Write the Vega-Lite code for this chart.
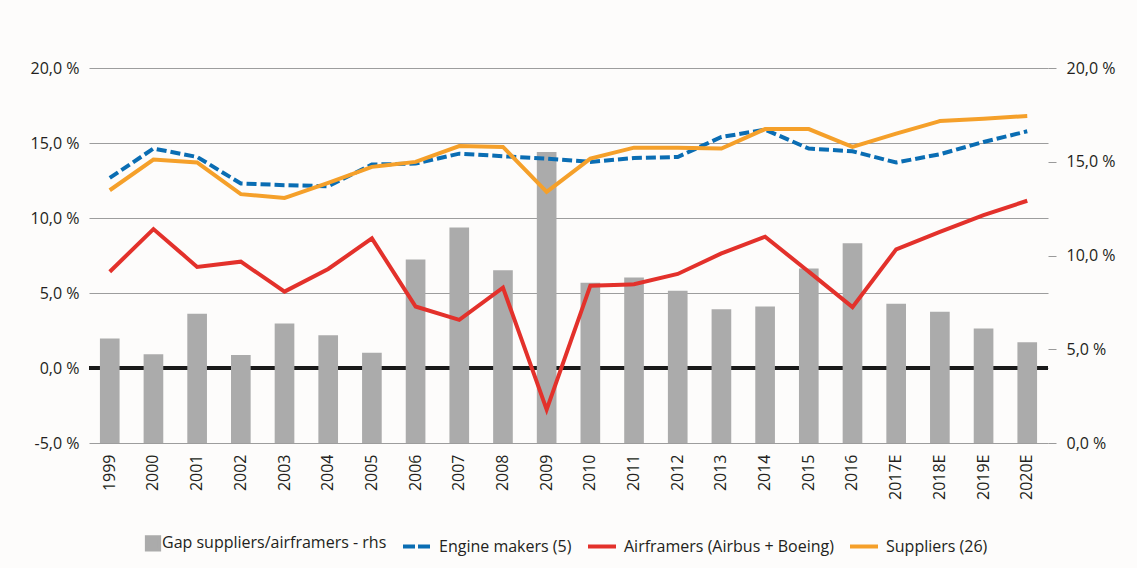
{
  "$schema": "https://vega.github.io/schema/vega-lite/v6.json",
  "autosize": "none",
  "width": 959,
  "height": 375,
  "padding": {"left": 89, "top": 68, "right": 89, "bottom": 125},
  "background": "#fdfcfb",
  "config": {
    "view": {"stroke": null},
    "font": "Open Sans",
    "axis": {"labelFont": "Open Sans", "labelColor": "#231f20", "title": null}
  },
  "datasets": {
    "gap": [
      {"year": "1999", "gap": 5.58}, {"year": "2000", "gap": 4.73}, {"year": "2001", "gap": 6.89},
      {"year": "2002", "gap": 4.69}, {"year": "2003", "gap": 6.38}, {"year": "2004", "gap": 5.75},
      {"year": "2005", "gap": 4.82}, {"year": "2006", "gap": 9.79}, {"year": "2007", "gap": 11.49},
      {"year": "2008", "gap": 9.22}, {"year": "2009", "gap": 15.52}, {"year": "2010", "gap": 8.55},
      {"year": "2011", "gap": 8.83}, {"year": "2012", "gap": 8.12}, {"year": "2013", "gap": 7.14},
      {"year": "2014", "gap": 7.28}, {"year": "2015", "gap": 9.31}, {"year": "2016", "gap": 10.66},
      {"year": "2017E", "gap": 7.43}, {"year": "2018E", "gap": 7.0}, {"year": "2019E", "gap": 6.11},
      {"year": "2020E", "gap": 5.38}
    ],
    "lines": [
      {"year": "1999", "series": "Engine makers (5)", "value": 12.67},
      {"year": "2000", "series": "Engine makers (5)", "value": 14.63},
      {"year": "2001", "series": "Engine makers (5)", "value": 14.07},
      {"year": "2002", "series": "Engine makers (5)", "value": 12.3},
      {"year": "2003", "series": "Engine makers (5)", "value": 12.19},
      {"year": "2004", "series": "Engine makers (5)", "value": 12.12},
      {"year": "2005", "series": "Engine makers (5)", "value": 13.56},
      {"year": "2006", "series": "Engine makers (5)", "value": 13.63},
      {"year": "2007", "series": "Engine makers (5)", "value": 14.29},
      {"year": "2008", "series": "Engine makers (5)", "value": 14.12},
      {"year": "2009", "series": "Engine makers (5)", "value": 13.96},
      {"year": "2010", "series": "Engine makers (5)", "value": 13.74},
      {"year": "2011", "series": "Engine makers (5)", "value": 14.0},
      {"year": "2012", "series": "Engine makers (5)", "value": 14.07},
      {"year": "2013", "series": "Engine makers (5)", "value": 15.4},
      {"year": "2014", "series": "Engine makers (5)", "value": 15.89},
      {"year": "2015", "series": "Engine makers (5)", "value": 14.63},
      {"year": "2016", "series": "Engine makers (5)", "value": 14.45},
      {"year": "2017E", "series": "Engine makers (5)", "value": 13.7},
      {"year": "2018E", "series": "Engine makers (5)", "value": 14.25},
      {"year": "2019E", "series": "Engine makers (5)", "value": 15.07},
      {"year": "2020E", "series": "Engine makers (5)", "value": 15.78},
      {"year": "1999", "series": "Airframers (Airbus + Boeing)", "value": 6.42},
      {"year": "2000", "series": "Airframers (Airbus + Boeing)", "value": 9.26},
      {"year": "2001", "series": "Airframers (Airbus + Boeing)", "value": 6.74},
      {"year": "2002", "series": "Airframers (Airbus + Boeing)", "value": 7.09},
      {"year": "2003", "series": "Airframers (Airbus + Boeing)", "value": 5.09},
      {"year": "2004", "series": "Airframers (Airbus + Boeing)", "value": 6.6},
      {"year": "2005", "series": "Airframers (Airbus + Boeing)", "value": 8.64},
      {"year": "2006", "series": "Airframers (Airbus + Boeing)", "value": 4.1},
      {"year": "2007", "series": "Airframers (Airbus + Boeing)", "value": 3.21},
      {"year": "2008", "series": "Airframers (Airbus + Boeing)", "value": 5.36},
      {"year": "2009", "series": "Airframers (Airbus + Boeing)", "value": -2.77},
      {"year": "2010", "series": "Airframers (Airbus + Boeing)", "value": 5.49},
      {"year": "2011", "series": "Airframers (Airbus + Boeing)", "value": 5.58},
      {"year": "2012", "series": "Airframers (Airbus + Boeing)", "value": 6.27},
      {"year": "2013", "series": "Airframers (Airbus + Boeing)", "value": 7.64},
      {"year": "2014", "series": "Airframers (Airbus + Boeing)", "value": 8.75},
      {"year": "2015", "series": "Airframers (Airbus + Boeing)", "value": 6.42},
      {"year": "2016", "series": "Airframers (Airbus + Boeing)", "value": 4.06},
      {"year": "2017E", "series": "Airframers (Airbus + Boeing)", "value": 7.91},
      {"year": "2018E", "series": "Airframers (Airbus + Boeing)", "value": 9.08},
      {"year": "2019E", "series": "Airframers (Airbus + Boeing)", "value": 10.19},
      {"year": "2020E", "series": "Airframers (Airbus + Boeing)", "value": 11.15},
      {"year": "1999", "series": "Suppliers (26)", "value": 11.85},
      {"year": "2000", "series": "Suppliers (26)", "value": 13.9},
      {"year": "2001", "series": "Suppliers (26)", "value": 13.7},
      {"year": "2002", "series": "Suppliers (26)", "value": 11.59},
      {"year": "2003", "series": "Suppliers (26)", "value": 11.34},
      {"year": "2004", "series": "Suppliers (26)", "value": 12.34},
      {"year": "2005", "series": "Suppliers (26)", "value": 13.41},
      {"year": "2006", "series": "Suppliers (26)", "value": 13.74},
      {"year": "2007", "series": "Suppliers (26)", "value": 14.8},
      {"year": "2008", "series": "Suppliers (26)", "value": 14.74},
      {"year": "2009", "series": "Suppliers (26)", "value": 11.74},
      {"year": "2010", "series": "Suppliers (26)", "value": 13.96},
      {"year": "2011", "series": "Suppliers (26)", "value": 14.69},
      {"year": "2012", "series": "Suppliers (26)", "value": 14.69},
      {"year": "2013", "series": "Suppliers (26)", "value": 14.63},
      {"year": "2014", "series": "Suppliers (26)", "value": 15.93},
      {"year": "2015", "series": "Suppliers (26)", "value": 15.93},
      {"year": "2016", "series": "Suppliers (26)", "value": 14.74},
      {"year": "2017E", "series": "Suppliers (26)", "value": 15.62},
      {"year": "2018E", "series": "Suppliers (26)", "value": 16.46},
      {"year": "2019E", "series": "Suppliers (26)", "value": 16.62},
      {"year": "2020E", "series": "Suppliers (26)", "value": 16.8}
    ]
  },
  "encoding": {
    "x": {
      "field": "year", "type": "nominal",
      "scale": {"paddingInner": 0.55, "paddingOuter": 0.25},
      "axis": {"labelAngle": -90, "domain": false, "ticks": false, "labelPadding": 11, "labelFontSize": 16}
    }
  },
  "layer": [
    {
      "data": {"name": "gap"},
      "mark": {"type": "rule", "color": "#1a1a1a", "strokeWidth": 2.6},
      "encoding": {
        "x": null,
        "y": {"datum": 0, "type": "quantitative", "scale": {"domain": [-5, 20]}, "axis": null}
      }
    },
    {
      "data": {"name": "gap"},
      "mark": {"type": "bar"},
      "encoding": {
        "y": {
          "field": "gap", "type": "quantitative",
          "scale": {"domain": [0, 20], "nice": false},
          "axis": {
            "orient": "right", "values": [0, 5, 10, 15, 20], "grid": false, "domain": false,
            "ticks": true, "tickColor": "#9a9a9a", "tickSize": 8, "labelPadding": 10, "labelFontSize": 16,
            "labelExpr": "replace(format(datum.value, '.1f'), '.', ',') + ' %'"
          }
        },
        "color": {"datum": "Gap suppliers/airframers - rhs"}
      }
    },
    {
      "data": {"name": "lines"},
      "mark": {"type": "line", "strokeWidth": 4},
      "encoding": {
        "y": {
          "field": "value", "type": "quantitative",
          "scale": {"domain": [-5, 20], "nice": false},
          "axis": {
            "orient": "left", "values": [-5, 0, 5, 10, 15, 20], "grid": true, "gridColor": "#9d9d9d",
            "domain": false, "ticks": false, "labelPadding": 10, "labelFontSize": 16,
            "labelExpr": "(datum.value < 0 ? '-' : '') + replace(format(abs(datum.value), '.1f'), '.', ',') + ' %'"
          }
        },
        "color": {
          "field": "series", "type": "nominal",
          "scale": {
            "domain": ["Gap suppliers/airframers - rhs", "Engine makers (5)", "Airframers (Airbus + Boeing)", "Suppliers (26)"],
            "range": ["#ababab", "#0a6db3", "#e3312b", "#f5a02a"]
          },
          "legend": {
            "title": null, "orient": "none", "legendX": 48, "legendY": 459, "direction": "horizontal",
            "labelFont": "Open Sans", "labelFontSize": 16, "labelColor": "#231f20", "labelLimit": 0,
            "symbolType": "stroke", "symbolSize": 784, "symbolStrokeWidth": 4,
            "columnPadding": 8, "labelOffset": 6,
            "encode": {
              "symbols": {
                "update": {
                  "shape": {"signal": "datum.value === 'Gap suppliers/airframers - rhs' ? 'square' : 'stroke'"},
                  "size": {"signal": "datum.value === 'Gap suppliers/airframers - rhs' ? 150 : 784"},
                  "fill": {"signal": "datum.value === 'Gap suppliers/airframers - rhs' ? '#ababab' : 'transparent'"},
                  "stroke": {"signal": "datum.value === 'Gap suppliers/airframers - rhs' ? 'transparent' : scale('color', datum.value)"},
                  "strokeDash": {"signal": "datum.value === 'Engine makers (5)' ? [12, 3] : [100, 0]"},
                  "opacity": {"value": 1}
                }
              },
              "labels": {
                "update": {
                  "dx": {"signal": "datum.value === 'Gap suppliers/airframers - rhs' ? -13 : 0"}
                }
              }
            }
          }
        },
        "strokeDash": {
          "field": "series", "type": "nominal",
          "scale": {
            "domain": ["Engine makers (5)", "Airframers (Airbus + Boeing)", "Suppliers (26)"],
            "range": [[10, 4], [100, 0], [100, 0]]
          },
          "legend": null
        }
      }
    }
  ],
  "resolve": {"scale": {"y": "independent"}}
}
